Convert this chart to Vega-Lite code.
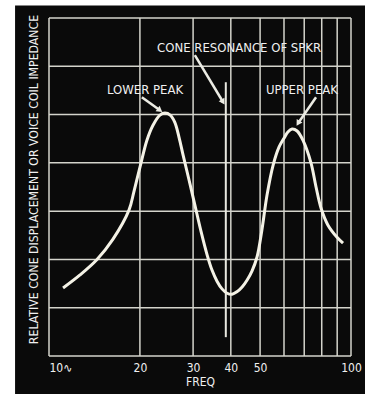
{
  "$schema": "https://vega.github.io/schema/vega-lite/v6.json",
  "width": 302,
  "height": 338,
  "autosize": {"type": "none"},
  "padding": {"left": 49, "top": 18, "right": 14, "bottom": 38},
  "background": "white",
  "config": {
    "view": {"stroke": null},
    "font": "Liberation Sans Narrow, DejaVu Sans Condensed, sans-serif"
  },
  "datasets": {
    "curve": [
      {"freq": 11.13, "value": 1.41},
      {"freq": 12.67, "value": 1.68},
      {"freq": 14.42, "value": 2.00},
      {"freq": 16.29, "value": 2.42},
      {"freq": 18.40, "value": 3.02},
      {"freq": 19.10, "value": 3.40},
      {"freq": 20.01, "value": 3.91},
      {"freq": 21.1, "value": 4.47},
      {"freq": 22.1, "value": 4.78},
      {"freq": 23.3, "value": 4.99},
      {"freq": 24.2, "value": 5.03},
      {"freq": 25.2, "value": 4.99},
      {"freq": 26.1, "value": 4.84},
      {"freq": 26.95, "value": 4.53},
      {"freq": 27.8, "value": 4.16},
      {"freq": 29.1, "value": 3.64},
      {"freq": 30.4, "value": 3.13},
      {"freq": 31.9, "value": 2.57},
      {"freq": 33.4, "value": 2.09},
      {"freq": 34.65, "value": 1.78},
      {"freq": 36.0, "value": 1.55},
      {"freq": 37.4, "value": 1.39},
      {"freq": 38.9, "value": 1.30},
      {"freq": 40.4, "value": 1.28},
      {"freq": 41.9, "value": 1.33},
      {"freq": 43.6, "value": 1.43},
      {"freq": 45.25, "value": 1.57},
      {"freq": 47.0, "value": 1.76},
      {"freq": 48.85, "value": 2.05},
      {"freq": 50.7, "value": 2.61},
      {"freq": 52.7, "value": 3.33},
      {"freq": 55.2, "value": 3.95},
      {"freq": 57.8, "value": 4.33},
      {"freq": 60.0, "value": 4.51},
      {"freq": 61.8, "value": 4.64},
      {"freq": 63.8, "value": 4.70},
      {"freq": 66.3, "value": 4.66},
      {"freq": 69.3, "value": 4.47},
      {"freq": 73.7, "value": 4.00},
      {"freq": 76.6, "value": 3.50},
      {"freq": 79.6, "value": 3.06},
      {"freq": 83.9, "value": 2.71},
      {"freq": 89.9, "value": 2.46},
      {"freq": 94.1, "value": 2.34}
    ],
    "vgrid": [
      {"freq": 10}, {"freq": 20}, {"freq": 30}, {"freq": 40}, {"freq": 50},
      {"freq": 60}, {"freq": 70}, {"freq": 80}, {"freq": 90}, {"freq": 100}
    ],
    "hgrid": [
      {"value": 0}, {"value": 1}, {"value": 2}, {"value": 3},
      {"value": 4}, {"value": 5}, {"value": 6}, {"value": 7}
    ],
    "notes": [
      {"freq": 20.8, "value": 5.51, "text": "LOWER PEAK"},
      {"freq": 68.8, "value": 5.51, "text": "UPPER PEAK"},
      {"freq": 42.6, "value": 6.38, "text": "CONE RESONANCE OF SPKR"}
    ],
    "arrows": [
      {"name": "lower", "freq": 20.3, "value": 5.36, "freq2": 23.3, "value2": 5.09},
      {"name": "cone", "freq": 30.4, "value": 6.23, "freq2": 37.7, "value2": 5.26},
      {"name": "upper", "freq": 76.6, "value": 5.36, "freq2": 66.8, "value2": 4.82}
    ],
    "resonance": [
      {"freq": 38.5, "value": 0.39, "value2": 5.67}
    ]
  },
  "layer": [
    {
      "data": {"values": [{}]},
      "mark": {"type": "rect", "color": "#0a0a0a", "clip": false},
      "encoding": {
        "x": {"datum": 7.72, "type": "quantitative", "scale": {"type": "log", "domain": [10, 100], "nice": false}},
        "x2": {"datum": 112},
        "y": {"datum": 7.26, "type": "quantitative", "scale": {"domain": [0, 7], "nice": false, "zero": false}},
        "y2": {"datum": -0.9}
      }
    },
    {
      "data": {"name": "vgrid"},
      "mark": {"type": "rule", "color": "#d4d4cc", "strokeWidth": 1.5},
      "encoding": {
        "x": {"field": "freq", "type": "quantitative"},
        "y": {"datum": 0, "type": "quantitative"},
        "y2": {"datum": 7}
      }
    },
    {
      "data": {"name": "hgrid"},
      "mark": {"type": "rule", "color": "#d4d4cc", "strokeWidth": 1.5},
      "encoding": {
        "y": {"field": "value", "type": "quantitative"},
        "x": {"datum": 10, "type": "quantitative"},
        "x2": {"datum": 100}
      }
    },
    {
      "data": {"name": "resonance"},
      "mark": {"type": "rule", "color": "#e8e8e0", "strokeWidth": 2},
      "encoding": {
        "x": {"field": "freq", "type": "quantitative"},
        "y": {"field": "value", "type": "quantitative"},
        "y2": {"field": "value2"}
      }
    },
    {
      "data": {"name": "curve"},
      "mark": {"type": "line", "color": "#f4f2e6", "strokeWidth": 3, "interpolate": "catmull-rom"},
      "encoding": {
        "x": {"field": "freq", "type": "quantitative",
          "axis": {
            "values": [10, 20, 30, 40, 50, 60, 70, 80, 90, 100],
            "labelExpr": "datum.value == 10 ? '10∿' : (indexof([20, 30, 40, 50, 100], datum.value) >= 0 ? datum.label : '')",
            "labelAlign": {"condition": {"test": "datum.value == 10", "value": "left"}, "value": "center"},
            "labelFlush": false,
            "labelOverlap": false,
            "grid": false, "ticks": false, "tickSize": 0, "domain": false,
            "labelColor": "#f0f0f0", "labelFontSize": 12, "labelPadding": 6,
            "title": "FREQ", "titleColor": "#f0f0f0", "titleFontSize": 12, "titleFontWeight": "normal",
            "titlePadding": 3, "zindex": 1
          }
        },
        "y": {"field": "value", "type": "quantitative",
          "axis": {
            "values": [0, 1, 2, 3, 4, 5, 6, 7],
            "labels": false, "grid": false, "ticks": false, "tickSize": 0, "domain": false,
            "title": "RELATIVE CONE DISPLACEMENT OR VOICE COIL IMPEDANCE",
            "titleColor": "#f0f0f0", "titleFontSize": 12.2, "titleFontWeight": "normal",
            "titleX": -16, "titleY": 161, "titleAlign": "center", "titleBaseline": "middle", "titleAngle": 270,
            "zindex": 1
          }
        }
      }
    },
    {
      "data": {"name": "arrows"},
      "mark": {"type": "rule", "color": "#ecece4", "strokeWidth": 2.5},
      "encoding": {
        "x": {"field": "freq", "type": "quantitative"},
        "y": {"field": "value", "type": "quantitative"},
        "x2": {"field": "freq2"},
        "y2": {"field": "value2"}
      }
    },
    {
      "data": {"name": "arrows"},
      "transform": [{"filter": "datum.name == 'lower'"}],
      "mark": {"type": "point", "shape": "triangle-up", "filled": true, "color": "#ecece4", "opacity": 1, "size": 45, "angle": 127},
      "encoding": {
        "x": {"field": "freq2", "type": "quantitative"},
        "y": {"field": "value2", "type": "quantitative"}
      }
    },
    {
      "data": {"name": "arrows"},
      "transform": [{"filter": "datum.name == 'cone'"}],
      "mark": {"type": "point", "shape": "triangle-up", "filled": true, "color": "#ecece4", "opacity": 1, "size": 45, "angle": 149},
      "encoding": {
        "x": {"field": "freq2", "type": "quantitative"},
        "y": {"field": "value2", "type": "quantitative"}
      }
    },
    {
      "data": {"name": "arrows"},
      "transform": [{"filter": "datum.name == 'upper'"}],
      "mark": {"type": "point", "shape": "triangle-up", "filled": true, "color": "#ecece4", "opacity": 1, "size": 45, "angle": 211},
      "encoding": {
        "x": {"field": "freq2", "type": "quantitative"},
        "y": {"field": "value2", "type": "quantitative"}
      }
    },
    {
      "data": {"name": "notes"},
      "mark": {"type": "text", "color": "#f0f0f0", "fontSize": 13, "align": "center", "baseline": "middle"},
      "encoding": {
        "x": {"field": "freq", "type": "quantitative"},
        "y": {"field": "value", "type": "quantitative"},
        "text": {"field": "text"}
      }
    }
  ]
}
